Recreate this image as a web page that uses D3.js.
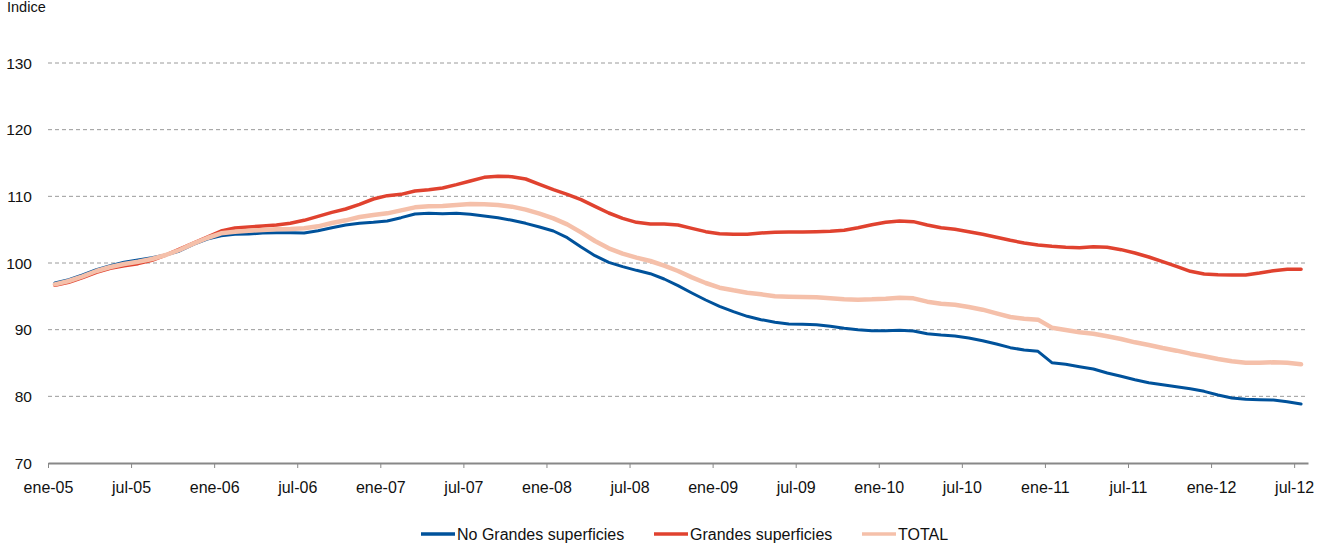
<!DOCTYPE html>
<html>
<head>
<meta charset="utf-8">
<script src="https://cdn.jsdelivr.net/npm/d3@7/dist/d3.min.js"></script>
<style>
html,body{margin:0;padding:0;background:#fff;}
svg{display:block;font-family:"Liberation Sans",Arial,sans-serif;}
</style>
</head>
<body>
<svg id="chart" width="1335" height="549"></svg>
<script>
const tickLabels = ["ene-05","jul-05","ene-06","jul-06","ene-07","jul-07","ene-08","jul-08","ene-09","jul-09","ene-10","jul-10","ene-11","jul-11","ene-12","jul-12"];
const yTicks = [70,80,90,100,110,120,130];
const seriesNames = ["No Grandes superficies","Grandes superficies","TOTAL"];
const seriesColors = ["#00529b","#e0422f","#f5c0aa"];

const noGrandes = [97.0,97.5,98.2,99.0,99.6,100.1,100.45,100.8,101.2,101.8,102.8,103.6,
104.1,104.3,104.35,104.5,104.55,104.55,104.5,104.85,105.3,105.7,105.95,106.1,
106.3,106.8,107.35,107.45,107.4,107.45,107.3,107.05,106.8,106.4,105.95,105.4,
104.8,103.8,102.4,101.1,100.1,99.45,98.9,98.4,97.6,96.6,95.5,94.45,
93.5,92.7,92.0,91.5,91.1,90.85,90.8,90.75,90.5,90.2,90.0,89.85,
89.85,89.9,89.8,89.4,89.2,89.05,88.75,88.35,87.85,87.3,86.95,86.75,
85.05,84.8,84.45,84.1,83.5,83.0,82.5,82.05,81.75,81.45,81.15,80.75,
80.2,79.75,79.55,79.5,79.45,79.2,78.85];

const grandes = [96.65,97.1,97.8,98.6,99.2,99.6,99.9,100.4,101.2,102.1,103.0,103.9,
104.8,105.25,105.4,105.55,105.7,105.95,106.4,107.0,107.6,108.1,108.8,109.6,
110.1,110.3,110.8,111.0,111.25,111.75,112.3,112.85,113.0,112.95,112.6,111.8,
111.0,110.3,109.5,108.5,107.5,106.7,106.1,105.85,105.85,105.7,105.2,104.7,
104.4,104.3,104.3,104.5,104.6,104.65,104.65,104.7,104.75,104.9,105.3,105.75,
106.1,106.3,106.2,105.7,105.3,105.05,104.7,104.3,103.85,103.4,103.0,102.7,
102.5,102.35,102.3,102.45,102.35,102.0,101.5,100.9,100.2,99.5,98.75,98.35,
98.25,98.2,98.2,98.5,98.85,99.05,99.05];

const total = [96.8,97.3,98.0,98.8,99.4,99.85,100.2,100.6,101.2,101.95,102.9,103.75,
104.45,104.7,104.85,104.95,105.05,105.1,105.2,105.5,106.0,106.4,106.9,107.2,
107.45,107.9,108.35,108.5,108.55,108.7,108.85,108.8,108.7,108.45,108.0,107.4,
106.7,105.8,104.6,103.3,102.2,101.4,100.8,100.3,99.6,98.8,97.85,97.0,
96.3,95.9,95.55,95.3,95.0,94.95,94.9,94.85,94.7,94.55,94.5,94.55,
94.65,94.8,94.7,94.2,93.9,93.75,93.4,93.0,92.45,91.9,91.65,91.5,
90.3,89.95,89.6,89.4,89.0,88.6,88.1,87.7,87.25,86.85,86.4,86.0,
85.6,85.25,85.05,85.05,85.1,85.05,84.8];

const series = [noGrandes, grandes, total];
const widths = [3, 3.5, 4.5];
const nMonths = noGrandes.length;

const svg = d3.select("#chart");
const plotLeft = 48, plotRight = 1308, plotTop = 63, plotBottom = 463;
const x = d3.scaleLinear().domain([0, nMonths]).range([plotLeft, plotRight]);
const y = d3.scaleLinear().domain([70, 130]).range([plotBottom, plotTop]);

// gridlines
svg.append("g").selectAll("line").data(yTicks.filter(d => d > 70)).join("line")
  .attr("x1", plotLeft).attr("x2", plotRight)
  .attr("y1", d => y(d)).attr("y2", d => y(d))
  .attr("stroke", "#9a9a9a").attr("stroke-width", 1)
  .attr("stroke-dasharray", "4,3");

// y labels
svg.append("g").selectAll("text").data(yTicks).join("text")
  .attr("x", 32).attr("y", d => y(d)).attr("dy", "0.36em")
  .attr("text-anchor", "end").attr("font-size", 15.5).attr("fill", "#111")
  .text(d => d);

// x axis
const xAxis = d3.axisBottom(x)
  .tickValues(tickLabels.map((d, i) => i * 6))
  .tickFormat((d, i) => tickLabels[i])
  .tickSize(5).tickSizeOuter(0).tickPadding(14);
const gx = svg.append("g").attr("transform", `translate(0,${plotBottom})`).call(xAxis);
gx.select(".domain").attr("stroke", "#888").attr("stroke-width", 2);
gx.selectAll(".tick line").attr("stroke", "#888").attr("stroke-width", 1);
gx.selectAll(".tick text").attr("font-size", 16).attr("fill", "#111")
  .attr("font-family", "Liberation Sans, Arial, sans-serif");

// lines
const line = d3.line().x((d, i) => x(i + 0.5)).y(d => y(d));
series.forEach((s, k) => {
  svg.append("path").datum(s)
    .attr("fill", "none").attr("stroke", seriesColors[k])
    .attr("stroke-width", widths[k]).attr("stroke-linejoin", "round")
    .attr("stroke-linecap", "round")
    .attr("d", line);
});

// y title
svg.append("text").attr("x", 7).attr("y", 12).attr("font-size", 14.5)
  .attr("fill", "#111").text("Indice");

// legend
const legendX = [421, 654, 862];
const lg = svg.append("g");
seriesNames.forEach((n, k) => {
  lg.append("line").attr("x1", legendX[k]).attr("x2", legendX[k] + 34)
    .attr("y1", 534).attr("y2", 534)
    .attr("stroke", seriesColors[k]).attr("stroke-width", 3.5);
  lg.append("text").attr("x", legendX[k] + 36).attr("y", 540)
    .attr("font-size", 16).attr("fill", "#111").text(n);
});
</script>
</body>
</html>
